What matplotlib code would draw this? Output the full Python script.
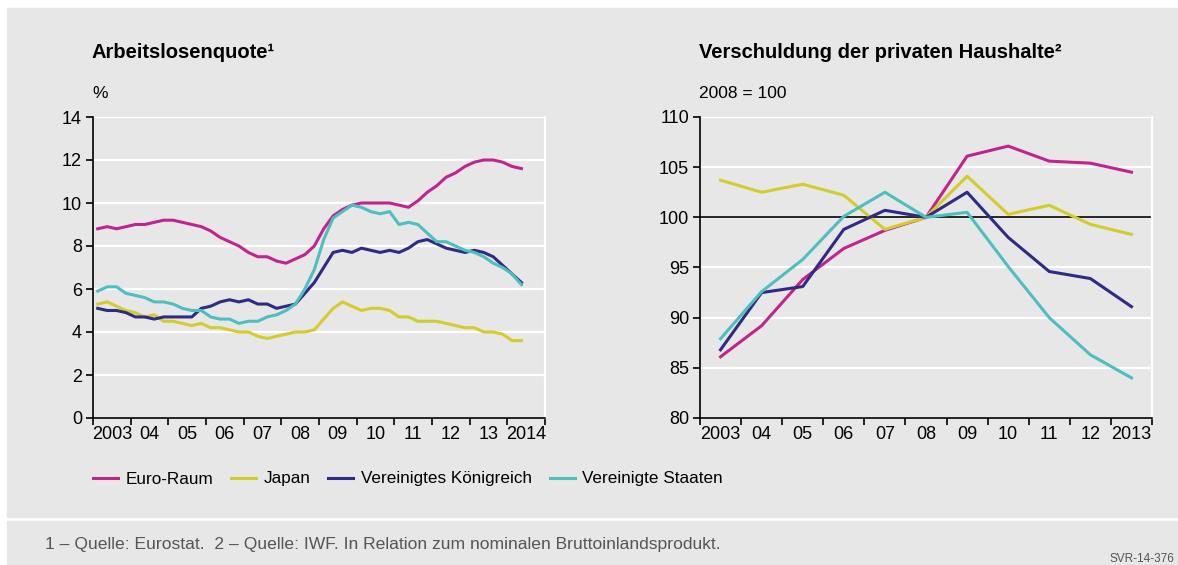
import numpy as np
import matplotlib.pyplot as plt
from matplotlib.patches import Rectangle
from matplotlib.ticker import FixedLocator, NullFormatter

plt.rcParams['font.family'] = ['Liberation Sans', 'DejaVu Sans']

# Arbeitslosenquote, quarterly 2003Q1 - 2014Q2
quarters = 2003.125 + 0.25 * np.arange(46)
euro_unemp = [8.8, 8.9, 8.8, 8.9, 9.0, 9.0, 9.1, 9.2, 9.2, 9.1,
              9.0, 8.9, 8.7, 8.4, 8.2, 8.0, 7.7, 7.5, 7.5, 7.3,
              7.2, 7.4, 7.6, 8.0, 8.8, 9.4, 9.7, 9.9, 10.0, 10.0,
              10.0, 10.0, 9.9, 9.8, 10.1, 10.5, 10.8, 11.2, 11.4, 11.7,
              11.9, 12.0, 12.0, 11.9, 11.7, 11.6]
japan_unemp = [5.3, 5.4, 5.2, 5.0, 4.9, 4.7, 4.8, 4.5, 4.5, 4.4,
               4.3, 4.4, 4.2, 4.2, 4.1, 4.0, 4.0, 3.8, 3.7, 3.8,
               3.9, 4.0, 4.0, 4.1, 4.6, 5.1, 5.4, 5.2, 5.0, 5.1,
               5.1, 5.0, 4.7, 4.7, 4.5, 4.5, 4.5, 4.4, 4.3, 4.2,
               4.2, 4.0, 4.0, 3.9, 3.6, 3.6]
uk_unemp = [5.1, 5.0, 5.0, 4.9, 4.7, 4.7, 4.6, 4.7, 4.7, 4.7,
            4.7, 5.1, 5.2, 5.4, 5.5, 5.4, 5.5, 5.3, 5.3, 5.1,
            5.2, 5.3, 5.8, 6.3, 7.0, 7.7, 7.8, 7.7, 7.9, 7.8,
            7.7, 7.8, 7.7, 7.9, 8.2, 8.3, 8.1, 7.9, 7.8, 7.7,
            7.8, 7.7, 7.5, 7.1, 6.7, 6.3]
us_unemp = [5.9, 6.1, 6.1, 5.8, 5.7, 5.6, 5.4, 5.4, 5.3, 5.1,
            5.0, 5.0, 4.7, 4.6, 4.6, 4.4, 4.5, 4.5, 4.7, 4.8,
            5.0, 5.3, 6.0, 6.9, 8.3, 9.3, 9.6, 9.9, 9.8, 9.6,
            9.5, 9.6, 9.0, 9.1, 9.0, 8.6, 8.2, 8.2, 8.0, 7.8,
            7.7, 7.5, 7.2, 7.0, 6.7, 6.2]

# Verschuldung der privaten Haushalte, annual 2003 - 2013 (2008 = 100)
years = np.arange(2003, 2014)
euro_debt = [86.1, 89.2, 93.8, 96.9, 98.7, 100.0, 106.1, 107.1, 105.6, 105.4, 104.5]
japan_debt = [103.7, 102.5, 103.3, 102.2, 98.8, 100.0, 104.1, 100.3, 101.2, 99.3, 98.3]
uk_debt = [86.8, 92.5, 93.1, 98.8, 100.7, 100.0, 102.5, 98.0, 94.6, 93.9, 91.1]
us_debt = [87.9, 92.6, 95.8, 100.1, 102.5, 100.0, 100.5, 95.1, 90.0, 86.3, 84.0]

series_names = ['Euro-Raum', 'Japan', 'Vereinigtes Königreich', 'Vereinigte Staaten']
colors = ['#C2248D', '#D2CC2C', '#2F2A84', '#4DBFBD']

left_labels = ['2003', '04', '05', '06', '07', '08', '09', '10', '11', '12', '13', '2014']
right_labels = ['2003', '04', '05', '06', '07', '08', '09', '10', '11', '12', '2013']

W, H = 1178, 565
BG = '#E7E7E7'


def px(x, y):
    # pixel (from top-left) -> figure fraction
    return x / W, 1 - y / H


def style_axes(ax, x0, x1, labels):
    ax.set_facecolor('none')
    ax.spines['top'].set_visible(False)
    ax.spines['right'].set_color('white')
    ax.spines['right'].set_linewidth(1.6)
    ax.spines['left'].set_linewidth(1.2)
    ax.spines['bottom'].set_linewidth(1.2)
    ax.set_xlim(x0, x1)
    ax.xaxis.set_major_locator(FixedLocator(np.arange(x0, x1 + 1)))
    ax.xaxis.set_major_formatter(NullFormatter())
    ax.xaxis.set_minor_locator(FixedLocator(np.arange(x0, x1) + 0.5))
    ax.set_xticklabels(labels, minor=True)
    ax.tick_params(axis='x', which='major', length=5, width=1.2, direction='out')
    ax.tick_params(axis='x', which='minor', length=0, pad=6, labelsize=13)
    ax.tick_params(axis='y', length=5, width=1.2, direction='out', labelsize=13, pad=3)
    ax.yaxis.grid(True, color='white', linewidth=1.6)
    ax.set_axisbelow(True)


def main():
    fig = plt.figure(figsize=(W / 100, H / 100), dpi=100, facecolor='white')

    # grey panels, behind everything
    fig.patches.append(Rectangle(px(7, 517), (W - 7) / W, (517 - 8) / H,
                                 transform=fig.transFigure, color=BG, zorder=-10))
    fig.patches.append(Rectangle(px(7, 565), (W - 7) / W, (565 - 521) / H,
                                 transform=fig.transFigure, color=BG, zorder=-10))

    ax1 = fig.add_axes([93 / W, 1 - 418 / H, 452 / W, 301 / H])
    ax2 = fig.add_axes([700 / W, 1 - 418 / H, 452 / W, 301 / H])

    lines = []
    for vals, name, c in zip([euro_unemp, japan_unemp, uk_unemp, us_unemp], series_names, colors):
        ln, = ax1.plot(quarters, vals, color=c, lw=2.2, label=name, solid_joinstyle='round')
        lines.append(ln)
    style_axes(ax1, 2003, 2015, left_labels)
    ax1.set_ylim(0, 14)
    ax1.set_yticks(np.arange(0, 15, 2))

    for vals, c in zip([euro_debt, japan_debt, uk_debt, us_debt], colors):
        ax2.plot(years + 0.5, vals, color=c, lw=2.2, solid_joinstyle='round')
    style_axes(ax2, 2003, 2014, right_labels)
    ax2.set_ylim(80, 110)
    ax2.set_yticks(np.arange(80, 111, 5))
    ax2.axhline(100, color='black', lw=1.2, zorder=1.5)

    # titles and units
    fig.text(*px(92, 53), 'Arbeitslosenquote\u00b9', fontsize=14.5, fontweight='bold',
             va='center', ha='left')
    fig.text(*px(699, 53), 'Verschuldung der privaten Haushalte\u00b2', fontsize=14.5,
             fontweight='bold', va='center', ha='left')
    fig.text(*px(92, 94), '%', fontsize=12.5, va='center', ha='left')
    fig.text(*px(699, 94), '2008 = 100', fontsize=12.5, va='center', ha='left')

    fig.legend(handles=lines, loc='center left', bbox_to_anchor=px(93, 479), ncol=4,
               frameon=False, fontsize=12.3, handlelength=1.45, handletextpad=0.45,
               columnspacing=1.05, borderpad=0, borderaxespad=0)

    # footnote
    fig.text(*px(45, 544), '1 \u2013 Quelle: Eurostat.  2 \u2013 Quelle: IWF. In Relation zum '
             'nominalen Bruttoinlandsprodukt.', fontsize=12.6, color='#555555',
             va='center', ha='left')
    fig.text(*px(1174, 559), 'SVR-14-376', fontsize=8.5, color='#555555',
             va='center', ha='right')

    fig.savefig('out.png', dpi=100, facecolor='white')


if __name__ == '__main__':
    main()
